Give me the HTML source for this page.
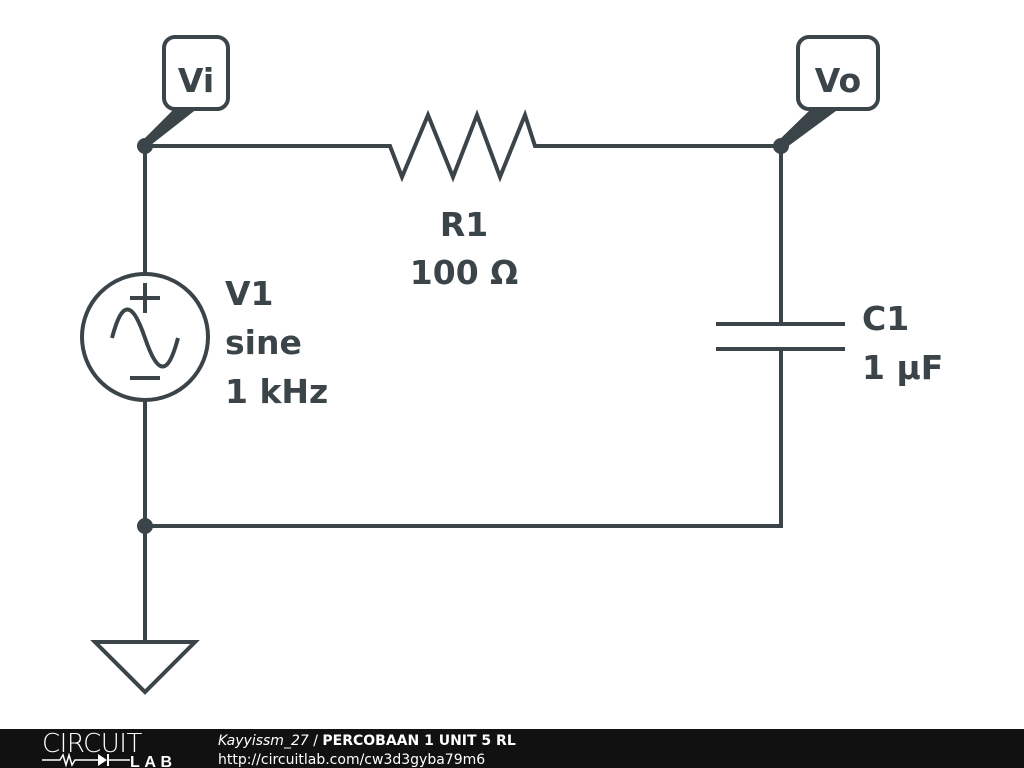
<!DOCTYPE html>
<html><head><style>
body{margin:0;background:#fff;width:1024px;height:768px;overflow:hidden;font-family:"DejaVu Sans","Liberation Sans",sans-serif}
</style></head><body>
<svg width="1024" height="768" style="position:absolute;left:0;top:0">
<g stroke="#3b4449" stroke-width="4" fill="none" stroke-linejoin="miter">
<polyline points="145,146 390,146 402,177 428,115 453,177 477,115 500,177 525,115 535,146 781,146 781,324"/>
<line x1="716" y1="324" x2="845" y2="324"/>
<line x1="716" y1="349" x2="845" y2="349"/>
<polyline points="781,349 781,526 145,526"/>
<line x1="145" y1="146" x2="145" y2="274"/>
<line x1="145" y1="400" x2="145" y2="642"/>
<circle cx="145" cy="337" r="63"/>
<line x1="130" y1="298" x2="160" y2="298"/>
<line x1="145" y1="283" x2="145" y2="313"/>
<line x1="130" y1="378" x2="160" y2="378"/>
<path d="M112,338 C122,300 132,300 145,338 C158,376 168,376 178,338"/>
<polygon points="95,642 195,642 145,692"/>
<rect x="164" y="37" width="64" height="72" rx="11"/>
<rect x="798" y="37" width="80" height="72" rx="11"/>
</g>
<g fill="#3b4449">
<circle cx="145" cy="146" r="8"/>
<circle cx="781" cy="146" r="8"/>
<circle cx="145" cy="526" r="8"/>
<polygon points="175,108 198,108 147,148 141,142"/>
<polygon points="812,108 840,108 783,150 777,142"/>
</g>
<g fill="#3b4449" font-weight="bold" font-family="'DejaVu Sans','Liberation Sans',sans-serif">
<text x="196" y="92" font-size="33" text-anchor="middle">Vi</text>
<text x="838" y="92" font-size="33" text-anchor="middle">Vo</text>
<text x="464" y="236" font-size="33" text-anchor="middle">R1</text>
<text x="464" y="284" font-size="33" text-anchor="middle">100 Ω</text>
<text x="225" y="305" font-size="33">V1</text>
<text x="225" y="354" font-size="33">sine</text>
<text x="225" y="403" font-size="33">1 kHz</text>
<text x="862" y="330" font-size="33">C1</text>
<text x="862" y="379" font-size="33">1 μF</text>
</g>
<rect x="0" y="729" width="1024" height="39" fill="#111"/>
<text x="42" y="752" fill="#fff" font-size="26" font-family="'DejaVu Sans',sans-serif" font-weight="200" letter-spacing="-0.5">CIRCUIT</text>
<polyline points="42,760 60,760 63,755 66,765 69,755 72,765 75,760 98,760" stroke="#fff" stroke-width="1.5" fill="none"/>
<polygon points="98,754 98,766 107,760" fill="#fff"/>
<line x1="108" y1="754" x2="108" y2="766" stroke="#fff" stroke-width="2"/>
<line x1="108" y1="760" x2="130" y2="760" stroke="#fff" stroke-width="1.5"/>
<text x="130" y="767" fill="#fff" font-size="16" font-weight="bold" font-family="'Liberation Sans',sans-serif" textLength="42">LAB</text>
<text x="218" y="745" fill="#fff" font-size="14" font-family="'DejaVu Sans',sans-serif"><tspan font-style="italic">Kayyissm_27</tspan> / <tspan font-weight="bold">PERCOBAAN 1 UNIT 5 RL</tspan></text>
<text x="218" y="764" fill="#fff" font-size="14" font-family="'DejaVu Sans',sans-serif">http://circuitlab.com/cw3d3gyba79m6</text>
</svg>
</body></html>
